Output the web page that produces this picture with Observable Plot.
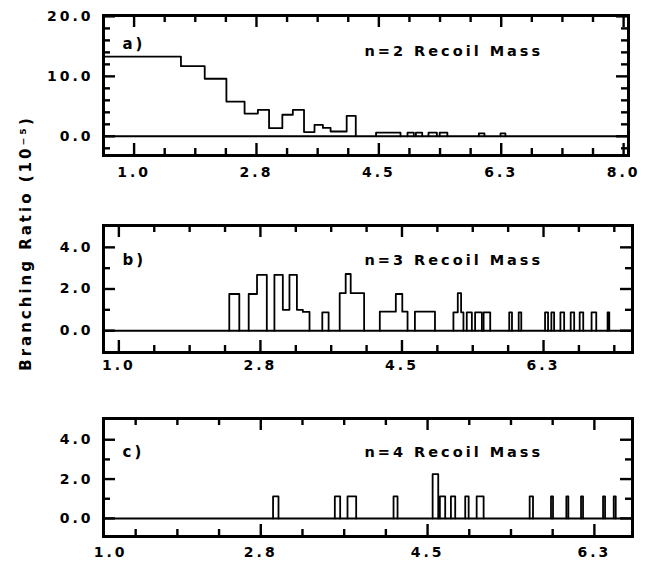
<!DOCTYPE html>
<html>
<head>
<meta charset="utf-8">
<script src="https://cdn.jsdelivr.net/npm/d3@7"></script>
<script src="https://cdn.jsdelivr.net/npm/@observablehq/plot@0.6"></script>
<style>
  body { margin: 0; background: #fff; }
  #chart { position: relative; width: 647px; height: 562px; background: #fff; }
  #chart svg { position: absolute; left: 0; }
</style>
</head>
<body>
<div id="chart"></div>
<script>
// ---------- Panel a: n=2 recoil mass (bin low edge, high edge, value) ----------
const aLo  = [0.5625, 1.67, 2.01, 2.32, 2.58, 2.77, 2.93, 3.12, 3.27, 3.43, 3.58, 3.70, 3.81, 4.04,
              4.46, 4.91, 5.03, 5.21, 5.37, 5.93, 6.24];
const aHi  = [1.67, 2.01, 2.32, 2.58, 2.77, 2.93, 3.12, 3.27, 3.43, 3.58, 3.70, 3.81, 4.04, 4.17,
              4.81, 5.00, 5.12, 5.33, 5.48, 6.01, 6.31];
const aVal = [13.3, 11.7, 9.6, 5.8, 3.8, 4.4, 1.35, 3.6, 4.4, 0.7, 1.9, 1.4, 0.8, 3.4,
              0.6, 0.6, 0.6, 0.6, 0.6, 0.5, 0.5];

// ---------- Panel b: n=3 recoil mass ----------
const bLo  = [2.365, 2.605, 2.708, 2.923, 3.027, 3.109, 3.201, 3.275, 3.515, 3.730, 3.804, 3.866,
              4.226, 4.424, 4.504, 4.660, 5.136, 5.190, 5.231, 5.301, 5.404, 5.509,
              5.826, 5.943, 6.269, 6.347, 6.459, 6.586, 6.697, 6.844, 7.042];
const bHi  = [2.489, 2.708, 2.829, 3.027, 3.109, 3.201, 3.275, 3.357, 3.593, 3.804, 3.866, 4.032,
              4.424, 4.504, 4.569, 4.908, 5.190, 5.231, 5.260, 5.364, 5.488, 5.591,
              5.860, 5.975, 6.306, 6.381, 6.505, 6.629, 6.741, 6.902, 7.063];
const bVal = [1.76, 1.76, 2.68, 2.68, 1.0, 2.68, 1.0, 0.9, 0.88, 1.8, 2.72, 1.8,
              0.91, 1.76, 0.91, 0.91, 0.88, 1.8, 0.88, 0.88, 0.88, 0.88,
              0.88, 0.88, 0.88, 0.88, 0.88, 0.88, 0.88, 0.88, 0.88];

// ---------- Panel c: n=4 recoil mass ----------
const cLo  = [2.879, 3.527, 3.660, 4.143, 4.553, 4.629, 4.745, 4.895, 5.015, 5.571, 5.795, 5.956, 6.110, 6.341, 6.453];
const cHi  = [2.936, 3.583, 3.751, 4.185, 4.612, 4.685, 4.790, 4.931, 5.088, 5.606, 5.816, 5.977, 6.131, 6.362, 6.474];
const cVal = [1.12, 1.12, 1.12, 1.12, 2.25, 1.12, 1.12, 1.12, 1.12, 1.12, 1.12, 1.12, 1.12, 1.12, 1.12];

// ---------- Tick labels ----------
const aXTicks = [1.0, 2.75, 4.5, 6.25, 8.0];
const aXLabels = ["1.0", "2.8", "4.5", "6.3", "8.0"];
const aYTicks = [0, 10, 20];
const aYLabels = ["0.0", "10.0", "20.0"];

const bXTicks = [1.0, 2.75, 4.5, 6.25];
const bXLabels = ["1.0", "2.8", "4.5", "6.3"];
const bYTicks = [0, 2, 4];
const bYLabels = ["0.0", "2.0", "4.0"];

const cXTicks = [1.175, 2.75, 4.5, 6.25];
const cXLabels = ["1.0", "2.8", "4.5", "6.3"];
const cYTicks = [0, 2, 4];
const cYLabels = ["0.0", "2.0", "4.0"];

const titles = ["n=2 Recoil Mass", "n=3 Recoil Mass", "n=4 Recoil Mass"];
const letters = ["a)", "b)", "c)"];
const yTitle = "Branching Ratio (10⁻⁵)";

// build the step outline of each contiguous group of bins
function outline(lo, hi, val) {
  const pts = [];
  let g = 0;
  for (let i = 0; i < lo.length; i++) {
    const start = i === 0 || Math.abs(lo[i] - hi[i - 1]) > 1e-6;
    if (start) {
      if (i > 0) pts.push({x: hi[i - 1], y: 0, g});
      g++;
      pts.push({x: lo[i], y: 0, g});
    }
    pts.push({x: lo[i], y: val[i], g}, {x: hi[i], y: val[i], g});
  }
  pts.push({x: hi[hi.length - 1], y: 0, g});
  return pts;
}

const STYLE = "font-family:'DejaVu Sans',sans-serif;font-size:14px;font-weight:bold;letter-spacing:3px;color:#000;background:transparent;overflow:visible;";

function panel(c) {
  const W = 647 - c.ml - c.mr;
  const H = c.height - c.mt - c.mb;
  const pts = outline(c.lo, c.hi, c.val);
  const fmt = (pos, labels) => d => labels[pos.indexOf(d)];
  const big = 12, small = 7;
  const st = {stroke: "#000", strokeWidth: 2.4};
  const marks = [
    // inward frame ticks on all four sides
    Plot.ruleX(c.xMajor, {x: d => d, insetTop: H - big, ...st}),
    Plot.ruleX(c.xMajor, {x: d => d, insetBottom: H - big, ...st}),
    Plot.ruleX(c.xMinor, {x: d => d, insetTop: H - small, ...st}),
    Plot.ruleX(c.xMinor, {x: d => d, insetBottom: H - small, ...st}),
    Plot.ruleY(c.yMajor, {y: d => d, insetRight: W - big, ...st}),
    Plot.ruleY(c.yMajor, {y: d => d, insetLeft: W - big, ...st}),
    Plot.ruleY(c.yMinor, {y: d => d, insetRight: W - small, ...st}),
    Plot.ruleY(c.yMinor, {y: d => d, insetLeft: W - small, ...st}),
    Plot.ruleY([0], {stroke: "#000", strokeWidth: 2}),
    Plot.line(pts, {x: "x", y: "y", z: "g", stroke: "#000", strokeWidth: 1.8}),
    Plot.frame({stroke: "#000", strokeWidth: 3, fill: "none"}),
    Plot.axisX(c.xTicks, {tickSize: 0, tickPadding: c.xPad, label: null, tickFormat: fmt(c.xTicks, c.xLabels), fill: "#000"}),
    Plot.axisY(c.yTicks, {tickSize: 0, tickPadding: 10, label: null, tickFormat: fmt(c.yTicks, c.yLabels), fill: "#000"}),
    Plot.text([c.letter], {text: d => d, frameAnchor: "top-left", dx: 19, dy: c.letterDy,
      textAnchor: "start", lineAnchor: "top", fill: "#000", fontWeight: "bold", fontSize: 15}),
    Plot.text([c.title], {text: d => d, frameAnchor: "top-left", dx: 261, dy: c.titleDy,
      textAnchor: "start", lineAnchor: "top", fill: "#000", fontWeight: "bold", fontSize: 14.5})
  ];
  if (c.yTitle) marks.push(Plot.text([c.yTitle], {text: d => d, frameAnchor: "left", dx: -77, dy: c.yTitleDy,
      rotate: -90, textAnchor: "middle", lineAnchor: "middle", fill: "#000", fontWeight: "bold", fontSize: 15}));
  return Plot.plot({
    width: 647, height: c.height,
    marginLeft: c.ml, marginRight: c.mr, marginTop: c.mt, marginBottom: c.mb,
    x: {type: "linear", domain: c.xDomain, axis: null},
    y: {type: "linear", domain: c.yDomain, axis: null},
    style: STYLE,
    marks
  });
}

const minorRange = (a, b) => d3.range(a, b + 1e-9, 0.4375);

const panels = [
  {lo: aLo, hi: aHi, val: aVal, top: 0, height: 190, mt: 15, mb: 35, ml: 103, mr: 19,
   xDomain: [0.5625, 8.07], yDomain: [-3.2, 20.15],
   xMajor: aXTicks, xMinor: minorRange(1.4375, 7.6).filter(d => !aXTicks.some(t => Math.abs(t - d) < 1e-6)),
   yMajor: aYTicks, yMinor: [-2, 2, 4, 6, 8, 12, 14, 16, 18],
   xTicks: aXTicks, xLabels: aXLabels, yTicks: aYTicks, yLabels: aYLabels, xPad: 12,
   letter: letters[0], title: titles[0], letterDy: 23, titleDy: 30},
  {lo: bLo, hi: bHi, val: bVal, top: 200, height: 180, mt: 25, mb: 28, ml: 103, mr: 15,
   xDomain: [0.81, 7.35], yDomain: [-1.05, 5.05],
   xMajor: bXTicks, xMinor: minorRange(1.4375, 7.2).filter(d => !bXTicks.some(t => Math.abs(t - d) < 1e-6)),
   yMajor: bYTicks, yMinor: [1, 3],
   xTicks: bXTicks, xLabels: bXLabels, yTicks: bYTicks, yLabels: bYLabels, xPad: 8,
   letter: letters[1], title: titles[1], letterDy: 29, titleDy: 29,
   yTitle: yTitle, yTitleDy: -46},
  {lo: cLo, hi: cHi, val: cVal, top: 390, height: 172, mt: 28, mb: 26, ml: 103, mr: 15,
   xDomain: [1.10, 6.65], yDomain: [-0.92, 5.08],
   xMajor: [2.75, 4.5, 6.25], xMinor: minorRange(1.4375, 6.6).filter(d => ![2.75, 4.5, 6.25].some(t => Math.abs(t - d) < 1e-6)),
   yMajor: cYTicks, yMinor: [1, 3],
   xTicks: cXTicks, xLabels: cXLabels, yTicks: cYTicks, yLabels: cYLabels, xPad: 11,
   letter: letters[2], title: titles[2], letterDy: 28, titleDy: 28}
];

const chart = document.getElementById("chart");
for (const p of panels) {
  const svg = panel(p);
  svg.style.top = p.top + "px";
  svg.style.position = "absolute";
  svg.style.left = "0px";
  chart.appendChild(svg);
}
</script>
</body>
</html>
